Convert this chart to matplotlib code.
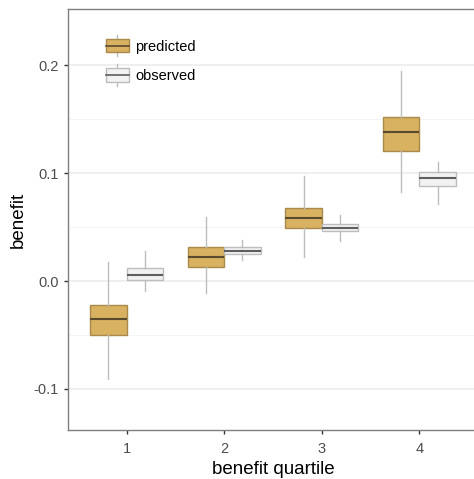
import matplotlib.pyplot as plt
from matplotlib.patches import Rectangle
from matplotlib.lines import Line2D
from matplotlib.legend_handler import HandlerBase

plt.rcParams['font.family'] = ['Liberation Sans', 'DejaVu Sans']

# quartiles of benefit
quartiles = [1, 2, 3, 4]
series = ['predicted', 'observed']

# box stats: lower whisker, q1, median, q3, upper whisker
pred_low = [-0.091, -0.0114, 0.0219, 0.0827]
pred_q1 = [-0.050, 0.0127, 0.0488, 0.1206]
pred_med = [-0.0355, 0.0222, 0.0586, 0.1377]
pred_q3 = [-0.0222, 0.0318, 0.0679, 0.1521]
pred_high = [0.0179, 0.0593, 0.0972, 0.1944]

obs_low = [-0.009, 0.0192, 0.0368, 0.071]
obs_q1 = [0.0006, 0.0253, 0.046, 0.0882]
obs_med = [0.0053, 0.0281, 0.049, 0.0951]
obs_q3 = [0.0117, 0.0312, 0.0528, 0.1006]
obs_high = [0.0278, 0.038, 0.0611, 0.1099]

fills = {'predicted': '#D8B161', 'observed': '#F2F2F2'}
edges = {'predicted': '#A98A4C', 'observed': '#BDBDBD'}
meds = {'predicted': '#5A4A2E', 'observed': '#5E5E5E'}

fig = plt.figure(figsize=(4.74, 4.79), dpi=100)
ax = fig.add_axes([68 / 474, 49 / 479, 410 / 474, 421 / 479])


def make_stats(low, q1, med, q3, high):
    out = []
    for i in range(len(low)):
        out.append({'whislo': low[i], 'q1': q1[i], 'med': med[i],
                    'q3': q3[i], 'whishi': high[i], 'fliers': []})
    return out


data = {
    'predicted': make_stats(pred_low, pred_q1, pred_med, pred_q3, pred_high),
    'observed': make_stats(obs_low, obs_q1, obs_med, obs_q3, obs_high),
}
offsets = {'predicted': -0.1875, 'observed': 0.1875}

for s in series:
    pos = [q + offsets[s] for q in quartiles]
    ax.bxp(data[s], positions=pos, widths=0.375, patch_artist=True,
           showcaps=False, showfliers=False,
           boxprops=dict(facecolor=fills[s], edgecolor=edges[s], linewidth=1),
           whiskerprops=dict(color='#BDBDBD', linewidth=1),
           medianprops=dict(color=meds[s], linewidth=1.5),
           zorder=3)

ax.set_xlim(0.4, 4.6)
ax.set_ylim(-0.138, 0.252)
ax.set_xticks(quartiles)
ax.set_xticklabels([str(q) for q in quartiles])
ax.set_yticks([-0.1, 0.0, 0.1, 0.2])
ax.set_yticklabels(['-0.1', '0.0', '0.1', '0.2'])
ax.set_yticks([-0.05, 0.05, 0.15], minor=True)
ax.tick_params(axis='y', which='minor', length=0)
ax.grid(axis='y', which='major', color='#EBEBEB', linewidth=1.1, zorder=0)
ax.grid(axis='y', which='minor', color='#F3F3F3', linewidth=0.6, zorder=0)
ax.set_axisbelow(True)
ax.tick_params(axis='both', which='major', colors='#333333', labelcolor='#4D4D4D',
               labelsize=10.5, length=3, width=1)
ax.tick_params(axis='x', which='major', pad=5.5)

for sp in ax.spines.values():
    sp.set_color('#7F7F7F')
    sp.set_linewidth(1)

ax.set_xlabel('benefit quartile', fontsize=13.5, color='black', labelpad=4)
ax.set_ylabel('benefit', fontsize=13.5, color='black', labelpad=5)


class BoxHandler(HandlerBase):
    def create_artists(self, legend, orig_handle, xdescent, ydescent,
                       width, height, fontsize, trans):
        s = orig_handle
        x0 = -xdescent
        y0 = -ydescent
        r = Rectangle((x0, y0), width, height,
                      facecolor=fills[s], edgecolor=edges[s], linewidth=1,
                      transform=trans)
        cx = x0 + width / 2
        w1 = Line2D([cx, cx], [y0 - height * 0.3, y0],
                    color='#BDBDBD', linewidth=1, transform=trans)
        w2 = Line2D([cx, cx], [y0 + height, y0 + height * 1.3],
                    color='#BDBDBD', linewidth=1, transform=trans)
        m = Line2D([x0, x0 + width], [y0 + height / 2] * 2,
                   color=meds[s], linewidth=1.2, transform=trans)
        return [w1, w2, r, m]


leg = ax.legend(series, series, handler_map={str: BoxHandler()},
                loc='upper left', bbox_to_anchor=(0.093, 0.929), frameon=False,
                fontsize=10.5, handlelength=1.55, handleheight=1.05,
                labelspacing=1.0, handletextpad=0.45, borderpad=0,
                borderaxespad=0)

fig.savefig('out.png', dpi=100)
